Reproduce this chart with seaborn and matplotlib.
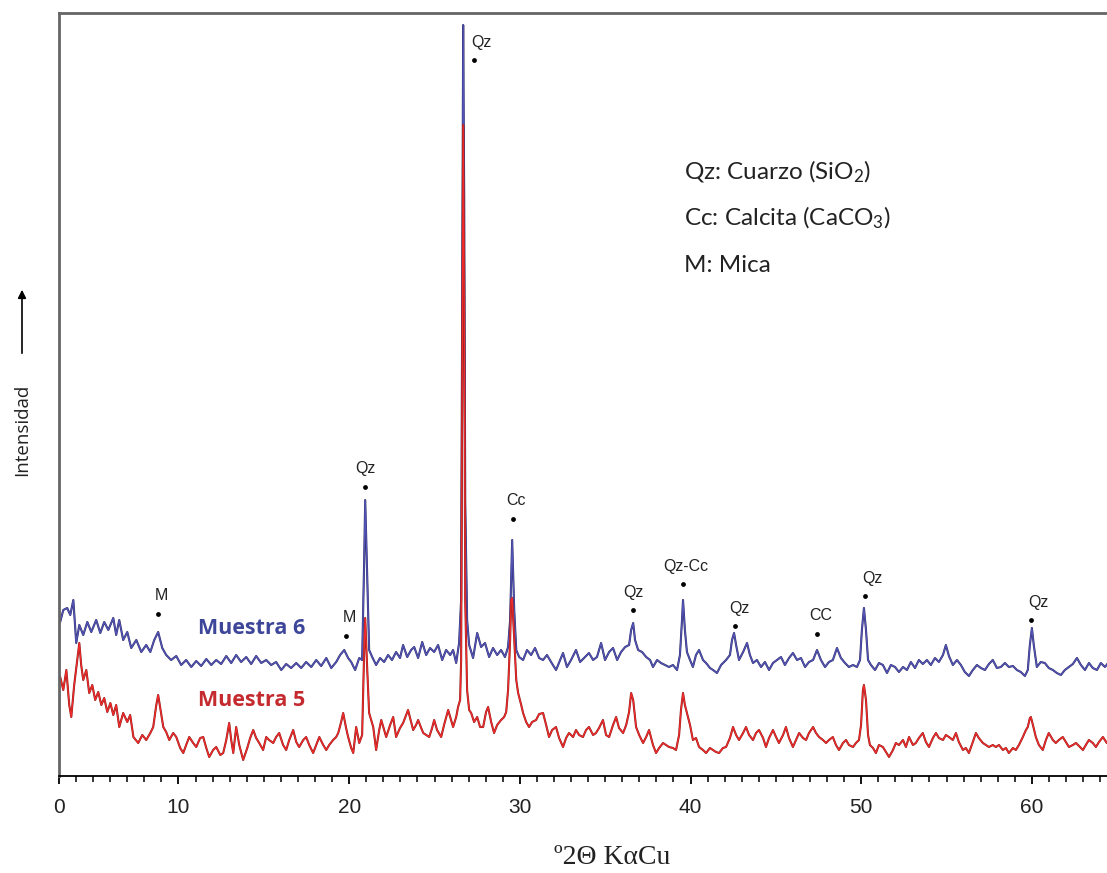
import matplotlib
matplotlib.use("Agg")
import matplotlib.pyplot as plt
import matplotlib.patheffects as pe
import pandas as pd
import seaborn as sns

# ---------------- data ----------------
two_theta_m6 = [
    3.07, 3.25, 3.48, 3.66, 3.84, 4.01, 4.19, 4.42, 4.66, 4.89, 5.18, 5.42, 5.65, 5.89, 6.18, 6.35,
    6.53, 6.76, 7.00, 7.23, 7.53, 7.82, 8.11, 8.35, 8.58, 8.81, 9.05, 9.28, 9.57, 9.87, 10.16, 10.45,
    10.75, 11.04, 11.33, 11.63, 11.92, 12.21, 12.50, 12.80, 13.09, 13.38, 13.67, 13.97, 14.26, 14.55,
    14.85, 15.14, 15.43, 15.72, 16.02, 16.31, 16.60, 16.90, 17.19, 17.48, 17.78, 18.07, 18.36, 18.66,
    18.95, 19.24, 19.47, 19.71, 19.94, 20.12, 20.35, 20.59, 20.76, 20.88, 20.94, 21.06, 21.17, 21.35,
    21.58, 21.81, 22.05, 22.28, 22.51, 22.75, 22.98, 23.16, 23.40, 23.63, 23.81, 24.04, 24.28, 24.51,
    24.74, 24.98, 25.21, 25.45, 25.68, 25.92, 26.09, 26.27, 26.44, 26.56, 26.62, 26.68, 26.74, 26.80,
    26.91, 27.03, 27.26, 27.50, 27.73, 27.96, 28.20, 28.43, 28.67, 28.90, 29.13, 29.31, 29.43, 29.55,
    29.67, 29.79, 29.96, 30.19, 30.42, 30.66, 30.89, 31.13, 31.36, 31.59, 31.83, 32.12, 32.36, 32.53,
    32.76, 33.00, 33.29, 33.53, 33.76, 34.05, 34.29, 34.52, 34.76, 34.99, 35.23, 35.46, 35.70, 35.93,
    36.17, 36.40, 36.52, 36.64, 36.75, 36.93, 37.16, 37.40, 37.63, 37.80, 38.04, 38.27, 38.51, 38.74,
    38.97, 39.21, 39.38, 39.50, 39.56, 39.67, 39.79, 39.97, 40.14, 40.32, 40.50, 40.73, 40.91, 41.14,
    41.32, 41.55, 41.79, 42.08, 42.31, 42.43, 42.55, 42.67, 42.84, 43.08, 43.31, 43.48, 43.66, 43.89,
    44.13, 44.36, 44.60, 44.83, 45.06, 45.30, 45.53, 45.77, 46.00, 46.24, 46.47, 46.71, 46.94, 47.18,
    47.41, 47.64, 47.88, 48.11, 48.34, 48.58, 48.81, 49.05, 49.28, 49.52, 49.75, 49.93, 50.04, 50.16,
    50.28, 50.40, 50.57, 50.81, 51.04, 51.27, 51.51, 51.74, 51.98, 52.21, 52.45, 52.68, 52.91, 53.15,
    53.38, 53.61, 53.85, 54.08, 54.32, 54.55, 54.79, 54.96, 55.14, 55.37, 55.61, 55.84, 56.07, 56.31,
    56.54, 56.78, 57.01, 57.25, 57.48, 57.71, 57.95, 58.18, 58.42, 58.65, 58.89, 59.12, 59.35, 59.59,
    59.76, 59.88, 60.00, 60.11, 60.29, 60.52, 60.76, 60.99, 61.23, 61.46, 61.70, 61.93, 62.17, 62.40,
    62.64, 62.87, 63.11, 63.34, 63.57, 63.81, 64.04, 64.28, 64.51,
]
intensity_m6 = [
    154, 166, 168, 161, 176, 133, 151, 141, 154, 144, 156, 143, 154, 146, 158, 141,
    156, 136, 144, 128, 136, 124, 131, 124, 136, 144, 128, 121, 116, 120, 111, 116,
    109, 115, 110, 117, 111, 116, 112, 120, 113, 121, 114, 119, 112, 120,
    113, 116, 111, 114, 106, 112, 108, 113, 108, 114, 109, 116, 110, 118,
    108, 114, 121, 126, 118, 114, 106, 118, 116, 216, 276, 196, 126, 119,
    111, 118, 114, 121, 116, 124, 118, 131, 119, 126, 129, 118, 134, 121,
    128, 124, 131, 116, 126, 121, 126, 113, 133, 176, 476, 751, 576, 276,
    156, 131, 118, 143, 129, 133, 119, 128, 121, 126, 119, 129, 156, 236,
    166, 126, 119, 116, 126, 121, 128, 118, 116, 121, 114, 106, 116, 123,
    109, 116, 126, 114, 118, 123, 116, 119, 133, 116, 124, 128, 116, 124,
    129, 131, 146, 153, 136, 126, 124, 119, 116, 109, 116, 113, 111, 109,
    111, 106, 121, 156, 176, 146, 124, 116, 109, 121, 126, 116, 113, 108,
    106, 103, 111, 116, 121, 136, 143, 131, 116, 124, 133, 121, 113, 116,
    109, 114, 106, 113, 116, 119, 111, 118, 123, 116, 118, 109, 114, 116,
    126, 116, 109, 114, 116, 128, 118, 113, 109, 111, 109, 116, 146, 168,
    146, 116, 111, 106, 113, 111, 103, 111, 109, 104, 109, 106, 114, 108,
    116, 112, 116, 111, 118, 114, 121, 131, 120, 111, 116, 111, 104, 100,
    106, 111, 108, 106, 112, 116, 108, 109, 113, 109, 110, 106, 104, 100,
    106, 131, 148, 131, 109, 114, 113, 108, 106, 103, 101, 106, 109, 112,
    118, 111, 106, 113, 108, 106, 113, 109, 114,
]

two_theta_m5 = [
    3.07, 3.25, 3.43, 3.60, 3.72, 3.89, 4.07, 4.19, 4.30, 4.42, 4.60, 4.77, 4.95, 5.12, 5.30, 5.48,
    5.65, 5.83, 6.01, 6.18, 6.35, 6.53, 6.76, 7.00, 7.17, 7.36, 7.64, 7.88, 8.11, 8.35, 8.52, 8.70,
    8.81, 8.93, 9.11, 9.28, 9.46, 9.69, 9.87, 10.10, 10.28, 10.45, 10.63, 10.86, 11.04, 11.27, 11.45,
    11.63, 11.80, 12.03, 12.21, 12.45, 12.62, 12.80, 12.97, 13.09, 13.21, 13.38, 13.56, 13.79, 14.03,
    14.20, 14.38, 14.55, 14.73, 14.96, 15.14, 15.31, 15.55, 15.72, 15.90, 16.13, 16.31, 16.49, 16.72,
    16.90, 17.07, 17.31, 17.48, 17.66, 17.89, 18.07, 18.25, 18.48, 18.66, 18.83, 19.06, 19.24, 19.36,
    19.53, 19.65, 19.82, 19.94, 20.12, 20.24, 20.41, 20.59, 20.76, 20.88, 20.94, 21.06, 21.17, 21.29,
    21.41, 21.58, 21.76, 21.88, 22.05, 22.17, 22.40, 22.58, 22.75, 22.98, 23.16, 23.34, 23.45, 23.63,
    23.75, 23.92, 24.04, 24.22, 24.34, 24.51, 24.69, 24.86, 24.98, 25.15, 25.39, 25.56, 25.80, 25.97,
    26.09, 26.27, 26.38, 26.50, 26.56, 26.62, 26.68, 26.74, 26.80, 26.91, 27.03, 27.15, 27.32, 27.50,
    27.67, 27.85, 28.02, 28.14, 28.32, 28.49, 28.67, 28.90, 29.08, 29.20, 29.31, 29.43, 29.49, 29.55,
    29.67, 29.79, 29.90, 30.08, 30.19, 30.37, 30.54, 30.72, 30.95, 31.13, 31.36, 31.54, 31.71, 31.89,
    32.12, 32.30, 32.53, 32.71, 32.88, 33.12, 33.29, 33.47, 33.70, 33.88, 34.05, 34.29, 34.46, 34.64,
    34.87, 35.05, 35.23, 35.46, 35.64, 35.81, 36.05, 36.23, 36.40, 36.52, 36.64, 36.81, 36.99, 37.22,
    37.40, 37.57, 37.80, 37.98, 38.16, 38.39, 38.57, 38.74, 38.97, 39.15, 39.33, 39.44, 39.56, 39.67,
    39.79, 39.97, 40.14, 40.32, 40.50, 40.73, 40.91, 41.14, 41.32, 41.49, 41.67, 41.90, 42.08, 42.31,
    42.49, 42.67, 42.84, 43.08, 43.25, 43.43, 43.66, 43.84, 44.01, 44.25, 44.42, 44.60, 44.83, 45.01,
    45.18, 45.42, 45.59, 45.77, 46.00, 46.18, 46.36, 46.59, 46.77, 46.94, 47.18, 47.35, 47.53, 47.76,
    47.94, 48.11, 48.34, 48.52, 48.70, 48.93, 49.11, 49.28, 49.52, 49.69, 49.87, 49.99, 50.10, 50.16,
    50.28, 50.40, 50.51, 50.69, 50.86, 51.04, 51.27, 51.45, 51.63, 51.86, 52.03, 52.21, 52.45, 52.62,
    52.80, 53.03, 53.20, 53.38, 53.61, 53.79, 53.97, 54.20, 54.38, 54.55, 54.79, 54.96, 55.14, 55.37,
    55.55, 55.72, 55.96, 56.13, 56.31, 56.54, 56.72, 56.89, 57.13, 57.31, 57.48, 57.71, 57.89, 58.07,
    58.30, 58.48, 58.65, 58.89, 59.06, 59.24, 59.47, 59.65, 59.76, 59.88, 59.94, 60.06, 60.23, 60.41,
    60.64, 60.82, 60.99, 61.23, 61.40, 61.58, 61.81, 61.99, 62.17, 62.40, 62.58, 62.76, 62.99, 63.16,
    63.34, 63.57, 63.75, 63.93, 64.16, 64.39, 64.51,
]
intensity_m5 = [
    99, 86, 106, 71, 59, 91, 116, 133, 111, 96, 106, 83, 91, 76, 84, 71,
    78, 64, 73, 61, 71, 49, 63, 54, 61, 39, 33, 41, 36, 43, 49, 71,
    81, 68, 49, 44, 36, 43, 39, 28, 23, 31, 39, 33, 29, 38, 39,
    28, 19, 26, 29, 21, 23, 36, 53, 36, 23, 49, 31, 16, 28,
    38, 46, 38, 33, 26, 39, 36, 33, 39, 43, 31, 26, 36, 46,
    34, 29, 36, 39, 31, 23, 31, 39, 31, 26, 31, 36, 39, 43,
    54, 63, 48, 39, 28, 23, 49, 33, 41, 126, 158, 106, 63, 56,
    49, 26, 46, 56, 46, 39, 51, 59, 39, 48, 53, 61, 66, 54,
    46, 51, 56, 48, 43, 41, 39, 48, 56, 46, 39, 51, 66, 56,
    49, 59, 69, 76, 116, 376, 651, 476, 176, 86, 66, 63, 54, 59,
    49, 49, 64, 69, 54, 43, 51, 56, 59, 64, 86, 136, 176, 178,
    136, 96, 83, 71, 63, 54, 49, 54, 56, 62, 63, 51, 39, 46,
    49, 38, 29, 38, 43, 39, 46, 41, 39, 46, 49, 41, 43, 48,
    56, 41, 39, 51, 59, 48, 43, 51, 64, 83, 76, 49, 41, 33,
    39, 46, 31, 23, 28, 33, 31, 29, 28, 26, 41, 66, 83, 71,
    63, 51, 36, 38, 29, 26, 23, 28, 26, 24, 23, 28, 29, 38,
    49, 41, 36, 43, 49, 41, 36, 43, 46, 38, 29, 38, 46, 39,
    33, 41, 49, 38, 29, 36, 43, 38, 36, 43, 49, 43, 39, 36,
    33, 36, 39, 31, 26, 33, 36, 31, 29, 33, 36, 51, 86, 91,
    76, 41, 31, 28, 23, 31, 29, 24, 19, 26, 33, 31, 36, 29,
    39, 31, 33, 38, 43, 34, 29, 38, 43, 38, 36, 41, 39, 36,
    43, 34, 26, 28, 23, 34, 43, 38, 33, 31, 29, 31, 29, 31,
    26, 28, 23, 28, 26, 31, 39, 46, 49, 58, 59, 51, 39, 31,
    26, 36, 43, 36, 33, 36, 39, 34, 29, 31, 33, 30, 26, 31,
    36, 33, 29, 34, 39, 33, 36,
]

peak_labels = ["M", "M", "Qz", "Qz", "Cc", "Qz", "Qz-Cc", "Qz", "CC", "Qz", "Qz"]
peak_two_theta = [8.81, 19.82, 20.94, 27.32, 29.61, 36.64, 39.56, 42.61, 47.41, 50.22, 59.94]
peak_marker_level = [162, 140, 289, 716, 257, 166, 192, 150, 142, 180, 156]

x_ticks = [3, 10, 20, 30, 40, 50, 60]
x_tick_labels = ["0", "10", "20", "30", "40", "50", "60"]

legend_lines = ["Qz: Cuarzo (SiO$_\\mathrm{2}$)", "Cc: Calcita (CaCO$_\\mathrm{3}$)", "M: Mica"]
series_names = ["Muestra 6", "Muestra 5"]

# ---------------- style ----------------
sns.set_theme(style="white")
plt.rcParams["font.family"] = ["Liberation Sans", "DejaVu Sans"]
plt.rcParams["mathtext.fontset"] = "custom"
plt.rcParams["mathtext.rm"] = "Lato"
plt.rcParams["mathtext.it"] = "Lato:italic"
plt.rcParams["mathtext.bf"] = "Lato:bold"

BLUE = "#5454b8"
BLUE_EDGE = "#2e2e66"
RED = "#f22a2a"
RED_EDGE = "#8a2020"

fig = plt.figure(figsize=(11.07, 8.73), dpi=100)
ax = fig.add_axes([59 / 1107, 1 - 776 / 873, 1 - 59 / 1107, (776 - 13) / 873])

df6 = pd.DataFrame({"two_theta": two_theta_m6, "intensity": intensity_m6})
df5 = pd.DataFrame({"two_theta": two_theta_m5, "intensity": intensity_m5})

sns.lineplot(data=df6, x="two_theta", y="intensity", ax=ax, color=BLUE, lw=0.9,
             estimator=None, sort=False,
             path_effects=[pe.Stroke(linewidth=1.5, foreground=BLUE_EDGE), pe.Normal()])
sns.lineplot(data=df5, x="two_theta", y="intensity", ax=ax, color=RED, lw=0.9,
             estimator=None, sort=False,
             path_effects=[pe.Stroke(linewidth=1.5, foreground=RED_EDGE), pe.Normal()])

ax.set_xlim(3.0, 64.4)
ax.set_ylim(0, 763)

# peak markers
label_dx = [3, 3, 0, 7, 3, 0, 3, 4, 4, 7, 8]
ax.scatter(peak_two_theta, peak_marker_level, s=12, color="black", zorder=5, linewidths=0)
for lab, xv, yv, dx in zip(peak_labels, peak_two_theta, peak_marker_level, label_dx):
    ax.annotate(lab, (xv, yv), xytext=(dx, 18), textcoords="offset pixels",
                ha="center", va="center", fontsize=11.5, color="#222222",
                family=["Liberation Sans", "DejaVu Sans"])

# series labels
ax.text(11.16, 148, series_names[0], color="#3d4698", fontsize=15.5, fontweight="bold",
        va="center", ha="left", family=["Open Sans", "DejaVu Sans"])
ax.text(11.16, 76, series_names[1], color="#c42a2e", fontsize=15.5, fontweight="bold",
        va="center", ha="left", family=["Open Sans", "DejaVu Sans"])

# mineral key
for line, yv in zip(legend_lines, [604, 558, 510]):
    ax.text(39.62, yv, line, fontsize=17.5, va="center", ha="left", color="#222222",
            family=["Lato", "DejaVu Sans"])

# axes styling
ax.set_xticks(x_ticks)
ax.set_xticklabels(x_tick_labels)
ax.set_xticks(range(4, 65), minor=True)
ax.set_yticks([])
ax.tick_params(axis="x", which="major", direction="out", length=6, width=1.3,
               labelsize=15, pad=10, color="black", bottom=True)
ax.tick_params(axis="x", which="minor", direction="out", length=4, width=1.1,
               color="black", bottom=True)
ax.set_xlabel("")
ax.set_ylabel("")
ax.spines["right"].set_visible(False)
ax.spines["top"].set_color("#666666")
ax.spines["top"].set_linewidth(2.0)
ax.spines["left"].set_color("#666666")
ax.spines["left"].set_linewidth(2.0)
ax.spines["bottom"].set_color("black")
ax.spines["bottom"].set_linewidth(1.3)
for t in ax.get_xticklabels():
    t.set_color("#222222")

# axis titles
fig.text(612 / 1107, 1 - 858 / 873, "º2Θ KαCu", ha="center", va="center",
         fontsize=20, family=["Liberation Serif", "DejaVu Serif"], color="#222222")
fig.text(22 / 1107, 1 - 430 / 873, "Intensidad", rotation=90, ha="center", va="center",
         fontsize=13.5, family=["Open Sans", "DejaVu Sans"], color="#222222")
fig.patches.append(matplotlib.patches.FancyArrowPatch(
    (22 / 1107, 1 - 356 / 873), (22 / 1107, 1 - 287 / 873), transform=fig.transFigure,
    arrowstyle="-|>", mutation_scale=12, lw=1.2, color="black"))

fig.savefig("out.png", dpi=100)
